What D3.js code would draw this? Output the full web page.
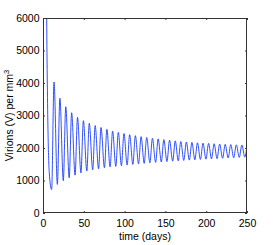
<!DOCTYPE html>
<html><head><meta charset="utf-8">
<script src="https://cdn.jsdelivr.net/npm/d3@7"></script>
<style>html,body{margin:0;padding:0;background:#fff;}svg{display:block;}text{font-family:"Liberation Sans",Arial,sans-serif;}</style>
</head><body>
<script>
// Data
const xTicks = [0, 50, 100, 150, 200, 250];
const yTicks = [0, 1000, 2000, 3000, 4000, 5000, 6000];
// initial spike (clipped above 6000)
const spikeDays = [0, 0.5, 2.5, 4.5, 7.7];
const spikeValues = [0, 5200, 16000, 6000, 1230];
const troughDays = [10.6, 17.6, 24.9, 32.1, 39.3, 46.5, 53.7, 60.9, 68.1, 75.3,
  82.2, 89.2, 96.1, 103.1, 110.1, 117.1, 124.0, 131.0, 138.0, 145.0, 151.9, 158.9,
  165.7, 172.5, 179.3, 186.1, 192.9, 199.7, 206.5, 213.3, 220.1, 226.9, 233.7, 240.5, 247.3];
const troughValues = [720, 880, 995, 1085, 1165, 1235, 1290, 1330, 1360, 1390,
  1415, 1435, 1455, 1475, 1495, 1512, 1528, 1543, 1557, 1570, 1583, 1595,
  1607, 1618, 1628, 1638, 1648, 1657, 1666, 1675, 1684, 1693, 1702, 1711, 1720];
const peakDays = [13.5, 20.7, 27.9, 35.1, 42.3, 49.5, 56.7, 63.9, 71.1, 78.3,
  85.3, 92.3, 99.2, 106.2, 113.2, 120.2, 127.1, 134.1, 141.1, 148.1, 155.1, 162.1,
  168.9, 175.7, 182.5, 189.3, 196.1, 202.9, 209.7, 216.5, 223.3, 230.1, 236.9, 243.7];
const peakValues = [4030, 3530, 3270, 3085, 2940, 2840, 2760, 2690, 2630, 2575,
  2520, 2480, 2445, 2410, 2380, 2350, 2325, 2300, 2280, 2260, 2240, 2220,
  2200, 2185, 2172, 2160, 2150, 2140, 2130, 2120, 2112, 2105, 2098, 2092];
const endDay = [250];
const endValue = [2070];

const W = 273, H = 245;
const L = 43, R = 247, T = 18, B = 213;
const x = d3.scaleLinear().domain([0, 250]).range([L, R]);
const y = d3.scaleLinear().domain([0, 6000]).range([B, T]);

const pts = [];
spikeDays.forEach((d, i) => pts.push([d, spikeValues[i]]));
troughDays.forEach((d, i) => pts.push([d, troughValues[i]]));
peakDays.forEach((d, i) => pts.push([d, peakValues[i]]));
endDay.forEach((d, i) => pts.push([d, endValue[i]]));
pts.sort((a, b) => a[0] - b[0]);

const svg = d3.select("body").append("svg").attr("width", W).attr("height", H);
svg.append("rect").attr("width", W).attr("height", H).attr("fill", "#fff");

svg.append("clipPath").attr("id", "clip").append("rect")
  .attr("x", L).attr("y", T).attr("width", R - L).attr("height", B - T);

const line = d3.line().x(d => x(d[0])).y(d => y(d[1])).curve(d3.curveMonotoneX);
svg.append("path").datum(pts).attr("clip-path", "url(#clip)")
  .attr("d", line).attr("fill", "none").attr("stroke", "#1a3cff").attr("stroke-width", 0.9);

const fs = 10.5;
function style(g, labels) {
  g.select(".domain").remove();
  g.selectAll(".tick line").attr("stroke", "#333");
  g.selectAll("text").attr("font-size", fs).attr("fill", "#000");
  if (!labels) g.selectAll("text").remove();
}
svg.append("g").attr("transform", `translate(0,${B})`)
  .call(d3.axisBottom(x).tickValues(xTicks).tickSizeInner(-2).tickSizeOuter(0).tickPadding(6.5))
  .call(g => style(g, true));
svg.append("g").attr("transform", `translate(0,${T})`)
  .call(d3.axisTop(x).tickValues(xTicks).tickSizeInner(-2).tickSizeOuter(0))
  .call(g => style(g, false));
svg.append("g").attr("transform", `translate(${L},0)`)
  .call(d3.axisLeft(y).tickValues(yTicks).tickSizeInner(-2).tickSizeOuter(0).tickPadding(3.5).tickFormat(d3.format("d")))
  .call(g => style(g, true));
svg.append("g").attr("transform", `translate(${R},0)`)
  .call(d3.axisRight(y).tickValues(yTicks).tickSizeInner(-2).tickSizeOuter(0))
  .call(g => style(g, false));

svg.append("rect").attr("x", L + 0.5).attr("y", T + 0.5).attr("width", R - L - 1).attr("height", B - T - 1)
  .attr("fill", "none").attr("stroke", "#333").attr("stroke-width", 1);

svg.append("text").attr("x", (L + R) / 2).attr("y", 239.5).attr("text-anchor", "middle")
  .attr("font-size", fs).text("time (days)");
const yl = svg.append("text").attr("transform", `translate(13,${(T + B) / 2}) rotate(-90)`)
  .attr("text-anchor", "middle").attr("font-size", fs);
yl.append("tspan").text("Virions (V) per mm");
yl.append("tspan").attr("font-size", 7.5).attr("dy", -4).text("3");
</script>
</body></html>
